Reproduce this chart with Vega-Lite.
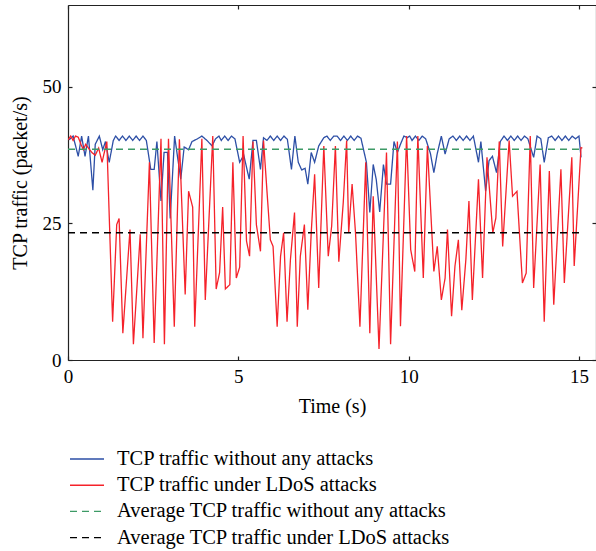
{
  "$schema": "https://vega.github.io/schema/vega-lite/v6.json",
  "width": 528,
  "height": 355,
  "autosize": "none",
  "padding": {"left": 68, "top": 5, "right": 0, "bottom": 191},
  "background": "white",
  "config": {
    "view": {"stroke": null},
    "font": "Liberation Serif",
    "axis": {
      "grid": false,
      "labelFont": "Liberation Serif",
      "titleFont": "Liberation Serif",
      "labelFontSize": 19,
      "titleFontSize": 20,
      "titleFontWeight": "normal",
      "labelColor": "#000",
      "titleColor": "#000",
      "domainColor": "#222",
      "tickColor": "#222",
      "domainWidth": 1.2,
      "tickWidth": 1.2,
      "tickSize": -4
    }
  },
  "datasets": {
    "traffic": [
      {"s":"B","t":0.03,"v":40.3},{"s":"B","t":0.15,"v":41},{"s":"B","t":0.3,"v":37.3},{"s":"B","t":0.4,"v":41},{"s":"B","t":0.5,"v":37.3},{"s":"B","t":0.6,"v":41},{"s":"B","t":0.73,"v":31.1},{"s":"B","t":0.8,"v":39.5},{"s":"B","t":0.92,"v":41},{"s":"B","t":1.02,"v":38.5},{"s":"B","t":1.1,"v":40},{"s":"B","t":1.21,"v":36.2},{"s":"B","t":1.33,"v":40.2},{"s":"B","t":1.4,"v":41},{"s":"B","t":1.5,"v":40.2},{"s":"B","t":1.6,"v":41},{"s":"B","t":1.7,"v":40.2},{"s":"B","t":1.8,"v":41},{"s":"B","t":1.9,"v":40.2},{"s":"B","t":2.0,"v":41},{"s":"B","t":2.1,"v":40.2},{"s":"B","t":2.2,"v":41},{"s":"B","t":2.3,"v":40.2},{"s":"B","t":2.43,"v":34.9},{"s":"B","t":2.53,"v":34.9},{"s":"B","t":2.61,"v":40},{"s":"B","t":2.73,"v":29.1},{"s":"B","t":2.82,"v":38},{"s":"B","t":2.92,"v":38},{"s":"B","t":3.0,"v":25.9},{"s":"B","t":3.13,"v":41},{"s":"B","t":3.22,"v":37},{"s":"B","t":3.31,"v":33.1},{"s":"B","t":3.41,"v":39},{"s":"B","t":3.54,"v":38.5},{"s":"B","t":3.64,"v":40},{"s":"B","t":3.8,"v":40.5},{"s":"B","t":3.93,"v":41},{"s":"B","t":4.08,"v":40.2},{"s":"B","t":4.23,"v":39.2},{"s":"B","t":4.33,"v":40.5},{"s":"B","t":4.43,"v":41},{"s":"B","t":4.5,"v":40.2},{"s":"B","t":4.6,"v":41},{"s":"B","t":4.7,"v":40.2},{"s":"B","t":4.8,"v":41},{"s":"B","t":4.9,"v":40.5},{"s":"B","t":5.04,"v":36.2},{"s":"B","t":5.16,"v":37.5},{"s":"B","t":5.32,"v":33.1},{"s":"B","t":5.43,"v":40.2},{"s":"B","t":5.53,"v":40.2},{"s":"B","t":5.65,"v":34.9},{"s":"B","t":5.74,"v":40.7},{"s":"B","t":5.84,"v":40.2},{"s":"B","t":5.94,"v":41},{"s":"B","t":6.04,"v":40.2},{"s":"B","t":6.14,"v":41},{"s":"B","t":6.24,"v":40.2},{"s":"B","t":6.34,"v":41},{"s":"B","t":6.44,"v":40.4},{"s":"B","t":6.56,"v":34.9},{"s":"B","t":6.66,"v":41},{"s":"B","t":6.76,"v":36.2},{"s":"B","t":6.86,"v":34.8},{"s":"B","t":6.96,"v":35.1},{"s":"B","t":7.04,"v":32.2},{"s":"B","t":7.14,"v":38},{"s":"B","t":7.24,"v":36.2},{"s":"B","t":7.36,"v":39.2},{"s":"B","t":7.51,"v":40.7},{"s":"B","t":7.6,"v":41},{"s":"B","t":7.7,"v":40.2},{"s":"B","t":7.8,"v":41},{"s":"B","t":7.9,"v":41},{"s":"B","t":8.0,"v":40.2},{"s":"B","t":8.1,"v":41},{"s":"B","t":8.2,"v":40.2},{"s":"B","t":8.3,"v":41},{"s":"B","t":8.4,"v":40.2},{"s":"B","t":8.5,"v":41},{"s":"B","t":8.6,"v":40.6},{"s":"B","t":8.76,"v":36.2},{"s":"B","t":8.86,"v":27},{"s":"B","t":8.96,"v":35.8},{"s":"B","t":9.05,"v":33},{"s":"B","t":9.15,"v":27.1},{"s":"B","t":9.26,"v":35.8},{"s":"B","t":9.35,"v":32.2},{"s":"B","t":9.47,"v":32.2},{"s":"B","t":9.57,"v":40},{"s":"B","t":9.67,"v":38},{"s":"B","t":9.76,"v":39.5},{"s":"B","t":9.86,"v":41},{"s":"B","t":9.96,"v":40.7},{"s":"B","t":10.03,"v":41},{"s":"B","t":10.1,"v":40.2},{"s":"B","t":10.2,"v":41},{"s":"B","t":10.3,"v":40.2},{"s":"B","t":10.4,"v":41},{"s":"B","t":10.5,"v":40.5},{"s":"B","t":10.64,"v":37.8},{"s":"B","t":10.74,"v":34.3},{"s":"B","t":10.84,"v":37.8},{"s":"B","t":10.96,"v":41},{"s":"B","t":11.07,"v":37.7},{"s":"B","t":11.19,"v":40.5},{"s":"B","t":11.3,"v":41},{"s":"B","t":11.4,"v":40.2},{"s":"B","t":11.5,"v":41},{"s":"B","t":11.6,"v":40.2},{"s":"B","t":11.7,"v":41},{"s":"B","t":11.8,"v":40.2},{"s":"B","t":11.9,"v":41},{"s":"B","t":12.05,"v":36.2},{"s":"B","t":12.12,"v":40},{"s":"B","t":12.26,"v":30.9},{"s":"B","t":12.36,"v":36.5},{"s":"B","t":12.46,"v":37.3},{"s":"B","t":12.58,"v":34.3},{"s":"B","t":12.69,"v":40},{"s":"B","t":12.8,"v":41},{"s":"B","t":12.9,"v":40.2},{"s":"B","t":13.0,"v":41},{"s":"B","t":13.1,"v":40.2},{"s":"B","t":13.2,"v":41},{"s":"B","t":13.3,"v":40.2},{"s":"B","t":13.4,"v":41},{"s":"B","t":13.5,"v":40.5},{"s":"B","t":13.67,"v":37.1},{"s":"B","t":13.77,"v":41},{"s":"B","t":13.88,"v":40.5},{"s":"B","t":13.98,"v":36.2},{"s":"B","t":14.1,"v":40.7},{"s":"B","t":14.2,"v":41},{"s":"B","t":14.3,"v":40.2},{"s":"B","t":14.4,"v":41},{"s":"B","t":14.5,"v":40.2},{"s":"B","t":14.6,"v":41},{"s":"B","t":14.7,"v":40.2},{"s":"B","t":14.8,"v":41},{"s":"B","t":14.9,"v":40.5},{"s":"B","t":15.0,"v":41},{"s":"B","t":15.06,"v":37.1},
      {"s":"R","t":0.0,"v":40.3},{"s":"R","t":0.08,"v":41},{"s":"R","t":0.15,"v":40.2},{"s":"R","t":0.22,"v":41},{"s":"R","t":0.3,"v":40.8},{"s":"R","t":0.38,"v":39.5},{"s":"R","t":0.45,"v":38.5},{"s":"R","t":0.52,"v":39.5},{"s":"R","t":0.6,"v":38.8},{"s":"R","t":0.7,"v":38},{"s":"R","t":0.8,"v":37.5},{"s":"R","t":0.9,"v":38.8},{"s":"R","t":1.0,"v":36.2},{"s":"R","t":1.14,"v":40},{"s":"R","t":1.31,"v":7},{"s":"R","t":1.43,"v":24.8},{"s":"R","t":1.5,"v":25.9},{"s":"R","t":1.61,"v":4.9},{"s":"R","t":1.82,"v":23.9},{"s":"R","t":1.92,"v":2.9},{"s":"R","t":2.12,"v":23},{"s":"R","t":2.2,"v":4},{"s":"R","t":2.39,"v":36.2},{"s":"R","t":2.53,"v":3.1},{"s":"R","t":2.73,"v":40.5},{"s":"R","t":2.83,"v":2.9},{"s":"R","t":2.95,"v":40.5},{"s":"R","t":3.12,"v":6.1},{"s":"R","t":3.27,"v":40.4},{"s":"R","t":3.44,"v":12},{"s":"R","t":3.54,"v":30.9},{"s":"R","t":3.66,"v":28},{"s":"R","t":3.72,"v":6.1},{"s":"R","t":3.93,"v":40.5},{"s":"R","t":4.03,"v":11},{"s":"R","t":4.25,"v":41},{"s":"R","t":4.35,"v":13},{"s":"R","t":4.45,"v":16},{"s":"R","t":4.54,"v":28},{"s":"R","t":4.62,"v":13},{"s":"R","t":4.75,"v":13.8},{"s":"R","t":4.84,"v":36.2},{"s":"R","t":4.94,"v":15},{"s":"R","t":5.04,"v":17},{"s":"R","t":5.14,"v":41},{"s":"R","t":5.24,"v":21.8},{"s":"R","t":5.33,"v":19},{"s":"R","t":5.43,"v":40},{"s":"R","t":5.53,"v":24.8},{"s":"R","t":5.65,"v":19.9},{"s":"R","t":5.74,"v":40.2},{"s":"R","t":5.84,"v":31},{"s":"R","t":5.94,"v":22},{"s":"R","t":6.02,"v":20.8},{"s":"R","t":6.14,"v":6.1},{"s":"R","t":6.24,"v":19},{"s":"R","t":6.33,"v":23.3},{"s":"R","t":6.43,"v":7},{"s":"R","t":6.53,"v":18.4},{"s":"R","t":6.65,"v":27},{"s":"R","t":6.73,"v":6.1},{"s":"R","t":6.82,"v":19},{"s":"R","t":6.94,"v":24.8},{"s":"R","t":7.04,"v":9.2},{"s":"R","t":7.14,"v":23.3},{"s":"R","t":7.24,"v":34},{"s":"R","t":7.36,"v":13.2},{"s":"R","t":7.51,"v":39.2},{"s":"R","t":7.64,"v":19},{"s":"R","t":7.74,"v":24.5},{"s":"R","t":7.85,"v":39.2},{"s":"R","t":7.95,"v":18},{"s":"R","t":8.08,"v":28.8},{"s":"R","t":8.18,"v":40.2},{"s":"R","t":8.24,"v":23.3},{"s":"R","t":8.34,"v":32.2},{"s":"R","t":8.44,"v":23.3},{"s":"R","t":8.57,"v":6.1},{"s":"R","t":8.74,"v":36.2},{"s":"R","t":8.86,"v":4.9},{"s":"R","t":8.96,"v":30},{"s":"R","t":9.13,"v":2},{"s":"R","t":9.35,"v":38},{"s":"R","t":9.47,"v":2.9},{"s":"R","t":9.67,"v":40},{"s":"R","t":9.76,"v":6.2},{"s":"R","t":9.94,"v":41},{"s":"R","t":10.06,"v":20.2},{"s":"R","t":10.18,"v":16.2},{"s":"R","t":10.27,"v":41},{"s":"R","t":10.43,"v":15},{"s":"R","t":10.55,"v":39.2},{"s":"R","t":10.74,"v":16.2},{"s":"R","t":10.84,"v":20.8},{"s":"R","t":10.96,"v":11},{"s":"R","t":11.07,"v":15},{"s":"R","t":11.14,"v":23.9},{"s":"R","t":11.26,"v":8},{"s":"R","t":11.36,"v":17.2},{"s":"R","t":11.46,"v":22},{"s":"R","t":11.56,"v":9.1},{"s":"R","t":11.68,"v":18.4},{"s":"R","t":11.77,"v":29.1},{"s":"R","t":11.87,"v":11},{"s":"R","t":12.05,"v":33.1},{"s":"R","t":12.17,"v":15},{"s":"R","t":12.3,"v":37.1},{"s":"R","t":12.47,"v":23.3},{"s":"R","t":12.56,"v":26},{"s":"R","t":12.66,"v":40},{"s":"R","t":12.76,"v":20.8},{"s":"R","t":12.95,"v":40.2},{"s":"R","t":13.05,"v":30},{"s":"R","t":13.18,"v":30.9},{"s":"R","t":13.34,"v":14.1},{"s":"R","t":13.45,"v":15.9},{"s":"R","t":13.57,"v":41},{"s":"R","t":13.67,"v":13.2},{"s":"R","t":13.86,"v":35.8},{"s":"R","t":13.98,"v":7},{"s":"R","t":14.13,"v":34.6},{"s":"R","t":14.26,"v":10.1},{"s":"R","t":14.47,"v":34.9},{"s":"R","t":14.57,"v":14.1},{"s":"R","t":14.79,"v":37.1},{"s":"R","t":14.86,"v":17.2},{"s":"R","t":15.06,"v":38.9},{"s":"R","t":15.1,"v":38.8}
    ],
    "averages": [
      {"s":"G","t":0,"v":38.6},{"s":"G","t":15.06,"v":38.6},
      {"s":"K","t":0,"v":23.3},{"s":"K","t":15.1,"v":23.3}
    ]
  },
  "layer": [
    {
      "data": {"name": "traffic"},
      "mark": {"type": "line", "strokeWidth": 1.3, "clip": true},
      "encoding": {
        "x": {"field": "t", "type": "quantitative", "scale": {"domain": [0, 15.5], "nice": false, "zero": false},
              "axis": {"orient": "bottom", "values": [0, 5, 10, 15], "title": "Time (s)", "labelPadding": 11, "titlePadding": 10, "labelFlush": false}},
        "y": {"field": "v", "type": "quantitative", "scale": {"domain": [0, 65], "nice": false},
              "axis": {"orient": "left", "values": [0, 25, 50], "title": "TCP traffic (packet/s)", "labelPadding": 11, "titlePadding": 12}},
        "color": {"field": "s", "type": "nominal",
          "scale": {"domain": ["B", "R", "G", "K"], "range": ["#2d4fa6", "#f5222a", "#3d9a66", "#000000"]},
          "legend": {"orient": "none", "legendX": 5.5, "legendY": 440.5, "title": null, "padding": 0,
            "symbolType": "M-1.36,0H1.36", "symbolSize": 625, "symbolStrokeWidth": 1.4, "labelOffset": 16.5, "rowPadding": 2.2,
            "labelFont": "Liberation Serif", "labelFontSize": 20.5, "labelColor": "#000", "labelLimit": 600,
            "labelExpr": "datum.value == 'B' ? 'TCP traffic without any attacks' : datum.value == 'R' ? 'TCP traffic under LDoS attacks' : datum.value == 'G' ? 'Average TCP traffic without any attacks' : 'Average TCP traffic under LDoS attacks'"}},
        "strokeDash": {"field": "s", "type": "nominal",
          "scale": {"domain": ["B", "R", "G", "K"], "range": [[1, 0], [1, 0], [7, 5], [7, 5]]},
          "legend": {"orient": "none", "legendX": 5.5, "legendY": 440.5, "title": null, "padding": 0,
            "symbolType": "M-1.36,0H1.36", "symbolSize": 625, "symbolStrokeWidth": 1.4, "labelOffset": 16.5, "rowPadding": 2.2,
            "labelFont": "Liberation Serif", "labelFontSize": 20.5, "labelColor": "#000", "labelLimit": 600,
            "labelExpr": "datum.value == 'B' ? 'TCP traffic without any attacks' : datum.value == 'R' ? 'TCP traffic under LDoS attacks' : datum.value == 'G' ? 'Average TCP traffic without any attacks' : 'Average TCP traffic under LDoS attacks'"}}
      }
    },
    {
      "data": {"name": "averages"},
      "mark": {"type": "line", "strokeWidth": 1.5},
      "encoding": {
        "x": {"field": "t", "type": "quantitative",
              "axis": {"orient": "top", "values": [0, 5, 10, 15], "labels": false, "title": null}},
        "y": {"field": "v", "type": "quantitative",
              "axis": {"orient": "right", "values": [0, 25, 50], "labels": false, "title": null}},
        "color": {"field": "s", "type": "nominal"},
        "strokeDash": {"field": "s", "type": "nominal"}
      }
    }
  ],
  "resolve": {"axis": {"x": "independent", "y": "independent"}}
}
